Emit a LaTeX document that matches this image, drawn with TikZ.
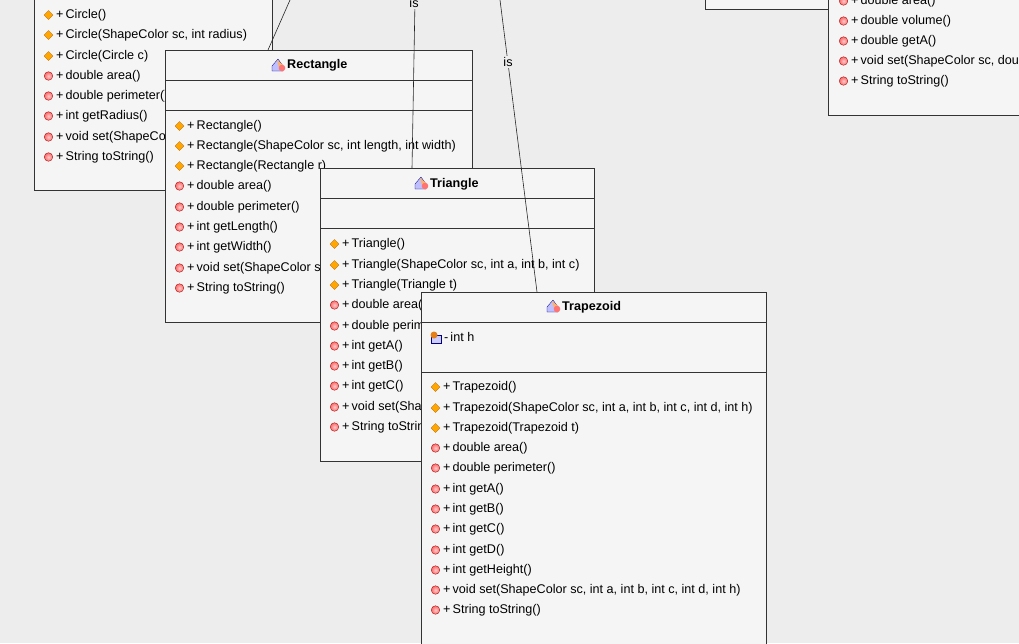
\documentclass[tikz,border=0pt]{standalone}
\usepackage{fontspec}
\setmainfont{Liberation Sans}
\begin{document}
\begin{tikzpicture}[x=1pt,y=-1pt,
  box/.style={draw=black!80,fill=white!96!black,line width=0.8pt},
  txt/.style={anchor=west,inner sep=0pt,font=\fontsize{12.6}{14}\selectfont},
  ttl/.style={inner sep=0pt,font=\bfseries\fontsize{12.6}{14}\selectfont},
  link/.style={draw=black!85,line width=0.6pt},
  lbl/.style={inner sep=1pt,font=\fontsize{12.6}{14}\selectfont}]
\useasboundingbox (0,0) rectangle (1019,643);
\fill[black!7] (0,0) rectangle (1019,643);
\newcommand{\ctor}[3]{\fill[orange!70!yellow,draw=orange!70!black,line width=0.3pt] (#1+4.5,#2-4.5)--(#1+9,#2)--(#1+4.5,#2+4.5)--(#1,#2)--cycle; \node[txt] at (#1+12,#2) {+\,#3};}
\newcommand{\meth}[3]{\shade[inner color=red!20,outer color=red!60,draw=red!55!black,line width=0.3pt] (#1+4.5,#2) circle (4.3); \node[txt] at (#1+12,#2) {+\,#3};}
\newcommand{\clsicon}[2]{\fill[blue!25,draw=blue!50!black,line width=0.3pt] (#1-6,#2+1)--(#1,#2-6)--(#1+5,#2+1)--(#1+5,#2+6)--(#1-6,#2+6)--cycle; \fill[orange!60] (#1-1,#2-5)--(#1+5,#2)--(#1+1,#2+2)--cycle; \fill[red!55] (#1+4,#2+3) circle (3.3);}
% top-right boxes
\draw[box] (705,-5) rectangle (1025,9);
\draw[box] (828,-5) rectangle (1025,115);
\meth{839}{1}{double area()}
\meth{839}{21}{double volume()}
\meth{839}{41}{double getA()}
\meth{839}{61}{void set(ShapeColor sc, dou}
\meth{839}{81}{String toString()}
% Circle
\node[box,anchor=north west,minimum width=238pt,minimum height=200pt,inner sep=0pt] (circle) at (34,-10) {};
\ctor{44}{15}{Circle()}
\ctor{44}{35}{Circle(ShapeColor sc, int radius)}
\ctor{44}{56}{Circle(Circle c)}
\meth{44}{76}{double area()}
\meth{44}{96}{double perimeter()}
\meth{44}{116}{int getRadius()}
\meth{44}{137}{void set(ShapeColor sc, int radius)}
\meth{44}{157}{String toString()}
% Rectangle
\node[box,anchor=north west,minimum width=307pt,minimum height=272pt,inner sep=0pt] (rect) at (165,50) {};
\draw[box] (165,80)--(472,80) (165,110)--(472,110);
\clsicon{278}{65}\node[ttl,anchor=west] (rectT) at (287,65) {Rectangle};
\ctor{175}{126}{Rectangle()}
\ctor{175}{146}{Rectangle(ShapeColor sc, int length, int width)}
\ctor{175}{166}{Rectangle(Rectangle r)}
\meth{175}{186}{double area()}
\meth{175}{207}{double perimeter()}
\meth{175}{227}{int getLength()}
\meth{175}{247}{int getWidth()}
\meth{175}{268}{void set(ShapeColor sc, int length, int width)}
\meth{175}{288}{String toString()}
\coordinate (c1) at (290,0);
\draw[link] (c1) -- (268,50);
% Triangle
\node[box,anchor=north west,minimum width=274pt,minimum height=293pt,inner sep=0pt] (tri) at (320,168) {};
\draw[box] (320,198)--(594,198) (320,228)--(594,228);
\clsicon{421}{183}\node[ttl,anchor=west] at (430,184) {Triangle};
\ctor{330}{244}{Triangle()}
\ctor{330}{265}{Triangle(ShapeColor sc, int a, int b, int c)}
\ctor{330}{285}{Triangle(Triangle t)}
\meth{330}{305}{double area()}
\meth{330}{326}{double perimeter()}
\meth{330}{346}{int getA()}
\meth{330}{366}{int getB()}
\meth{330}{386}{int getC()}
\meth{330}{407}{void set(ShapeColor sc, int a, int b, int c)}
\meth{330}{427}{String toString()}
\coordinate (c2) at (415,0);
\coordinate (c3) at (500,0);
\draw[link] (c2) -- (412,168);
\node[lbl,fill=black!7] at (414,3) {is};
\draw[link] (c3) -- (537,292);
\node[lbl,fill=black!7] at (508,62) {is};
% Trapezoid
\node[box,anchor=north west,minimum width=345pt,minimum height=360pt,inner sep=0pt] (trap) at (421,292) {};
\draw[box] (421,322)--(766,322) (421,372)--(766,372);
\clsicon{553}{306}\node[ttl,anchor=west] at (562,307) {Trapezoid};
\fill[blue!20,draw=blue!50!black,line width=0.3pt] (431,335) rectangle (441,343);
\fill[orange!60!brown] (434,335) circle (3.5);
\node[txt] at (444,337) {-\,int h};
\ctor{431}{387}{Trapezoid()}
\ctor{431}{408}{Trapezoid(ShapeColor sc, int a, int b, int c, int d, int h)}
\ctor{431}{428}{Trapezoid(Trapezoid t)}
\meth{431}{448}{double area()}
\meth{431}{468}{double perimeter()}
\meth{431}{489}{int getA()}
\meth{431}{509}{int getB()}
\meth{431}{529}{int getC()}
\meth{431}{550}{int getD()}
\meth{431}{570}{int getHeight()}
\meth{431}{590}{void set(ShapeColor sc, int a, int b, int c, int d, int h)}
\meth{431}{610}{String toString()}
\end{tikzpicture}
\end{document}
